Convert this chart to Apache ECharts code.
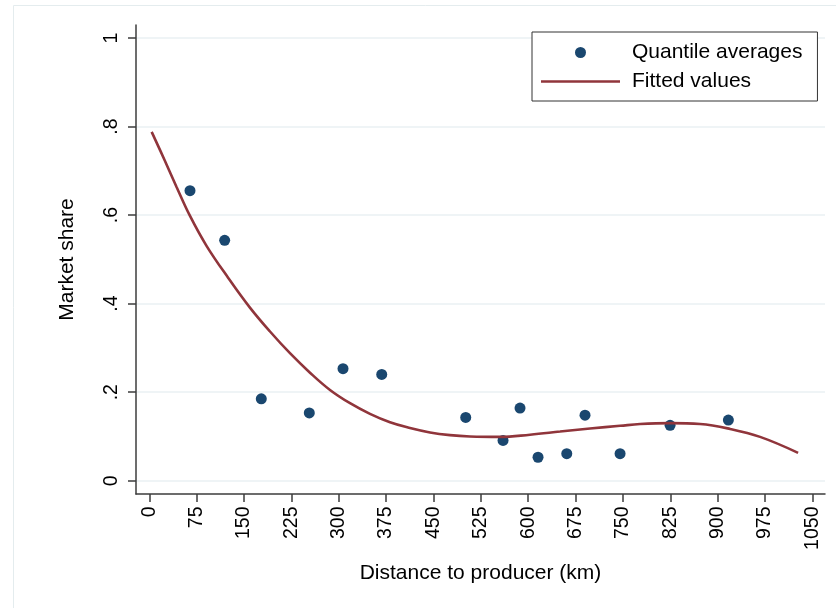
<!DOCTYPE html>
<html>
<head>
<meta charset="utf-8">
<script src="https://cdn.jsdelivr.net/npm/echarts@6/dist/echarts.min.js"></script>
<style>
  html, body { margin: 0; padding: 0; background: #ffffff; }
  #chart { width: 836px; height: 608px; }
</style>
</head>
<body>
<div id="chart"></div>
<script>
// Quantile averages of market share by distance to producer
const distanceKm = [64.5, 119.4, 177.4, 253.4, 306.8, 368.1, 501.1, 560.2, 587.1, 615.6, 661.1, 690.0, 745.5, 824.7, 917.0];
const marketShare = [0.655, 0.543, 0.185, 0.153, 0.253, 0.240, 0.143, 0.091, 0.164, 0.053, 0.061, 0.148, 0.061, 0.125, 0.137];

// Fitted values (polynomial fit) sampled along distance
const fitDistanceKm = [3.8, 24.0, 43.4, 64.5, 90.9, 125.1, 159.4, 191.2, 222.8, 254.5, 286.2, 317.9, 349.5, 381.2, 412.9, 444.6, 476.2, 507.9, 555.4, 602.9, 650.5, 698.0, 745.5, 777.2, 824.7, 872.2, 919.7, 967.2, 1027.4];
const fitShare = [0.788, 0.725, 0.663, 0.598, 0.530, 0.458, 0.391, 0.337, 0.288, 0.244, 0.205, 0.175, 0.151, 0.132, 0.119, 0.109, 0.103, 0.100, 0.099, 0.104, 0.111, 0.118, 0.124, 0.128, 0.130, 0.128, 0.117, 0.099, 0.063];

// Tick positions on each axis
const xTicks = [0, 75, 150, 225, 300, 375, 450, 525, 600, 675, 750, 825, 900, 975, 1050];
const yTicks = [0, 0.2, 0.4, 0.6, 0.8, 1];

const navy = '#1a476f';
const maroon = '#90353b';
const axisColor = '#3c3c3c';
const font = 'Liberation Sans, Arial, Helvetica, sans-serif';

const scatterData = distanceKm.map((d, i) => [d, marketShare[i]]);
const fitData = fitDistanceKm.map((d, i) => [d, fitShare[i]]);

function shareLabel(v) {
  if (Math.abs(v) < 1e-9) return '0';
  if (Math.abs(v - 1) < 1e-9) return '1';
  return String(Math.round(v * 10) / 10).replace(/^0/, '');
}

const chart = echarts.init(document.getElementById('chart'), null, { renderer: 'canvas' });
chart.setOption({
  animation: false,
  backgroundColor: '#ffffff',
  textStyle: { fontFamily: font },
  graphic: [{
    type: 'rect',
    left: 11, top: 3,
    shape: { width: 840, height: 620 },
    style: { fill: 'none', stroke: '#e4ecee', lineWidth: 1 },
    silent: true, z: -10
  }],
  grid: { left: 136, right: 11, top: 25, bottom: 114, containLabel: false },
  legend: {
    left: 532, top: 32,
    orient: 'vertical',
    data: [
      { name: 'Quantile averages', icon: 'circle' },
      // solid bar across the middle of the icon box, drawn as a line key
      { name: 'Fitted values', icon: 'path://M0,0M0,11M0,4.2L79,4.2L79,6.8L0,6.8Z', itemStyle: { borderWidth: 0 } }
    ],
    itemWidth: 79, itemHeight: 11,
    itemGap: 8,
    padding: [10, 15, 9, 9],
    borderColor: '#333333', borderWidth: 1,
    backgroundColor: '#ffffff',
    textStyle: { fontSize: 21, color: '#000', fontFamily: font, padding: [0, 0, 0, 7] }
  },
  xAxis: {
    type: 'value',
    min: -21, max: 1070,
    name: 'Distance to producer (km)',
    nameLocation: 'middle',
    nameGap: 69,
    nameTextStyle: { fontSize: 21, color: '#000', fontFamily: font },
    axisLine: { show: true, onZero: false, lineStyle: { color: axisColor, width: 1.5 } },
    axisTick: { show: true, length: 8, customValues: xTicks, lineStyle: { color: axisColor, width: 1.5 } },
    axisLabel: { show: true, rotate: 90, margin: 12.5, customValues: xTicks, formatter: v => String(v), fontSize: 19.5, color: '#000', fontFamily: font },
    splitLine: { show: false }
  },
  yAxis: {
    type: 'value',
    min: -0.03, max: 1.0293,
    name: 'Market share',
    nameLocation: 'middle',
    nameGap: 58,
    nameTextStyle: { fontSize: 21, color: '#000', fontFamily: font },
    axisLine: { show: true, onZero: false, lineStyle: { color: axisColor, width: 1.5 } },
    axisTick: { show: true, length: 8, customValues: yTicks, lineStyle: { color: axisColor, width: 1.5 } },
    axisLabel: { show: true, rotate: 90, margin: 14, customValues: yTicks, formatter: shareLabel, fontSize: 19.5, color: '#000', fontFamily: font },
    splitLine: { show: true, lineStyle: { color: '#eaf1f3', width: 1.5 } }
  },
  series: [
    {
      name: 'Quantile averages',
      type: 'scatter',
      data: scatterData,
      symbol: 'circle',
      symbolSize: 11,
      itemStyle: { color: navy, opacity: 1 }
    },
    {
      name: 'Fitted values',
      type: 'line',
      data: fitData,
      smooth: 0.4,
      symbol: 'none',
      showSymbol: false,
      lineStyle: { color: maroon, width: 2.6 },
      itemStyle: { color: maroon }
    }
  ]
});
</script>
</body>
</html>
